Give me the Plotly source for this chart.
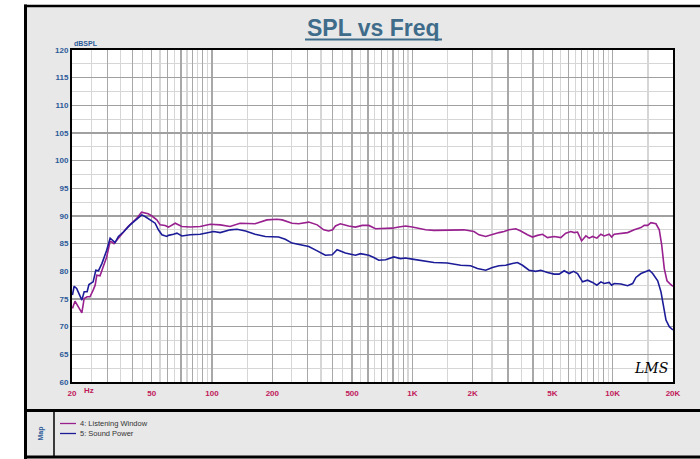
import plotly.graph_objects as go

# ---------------- data ----------------
series_names = ["4: Listening Window", "5: Sound Power"]

lw_freq = [20.1, 20.7, 22.4, 23.0, 23.8, 24.6, 25.5, 26.1, 26.6, 27.6, 28.6, 29.8, 31.0, 31.6, 32.4,
           33.5, 35.4, 38.1, 42.1, 44.5, 48.0, 50.1, 53.0, 55.1, 58.3, 60.6, 65.5, 70.7, 77.8, 87.3,
           98, 110, 123, 138, 150, 164, 188, 199, 211, 224, 251, 271, 304, 335, 361, 382, 400, 413,
           437, 481, 520, 562, 606, 655, 735, 793, 856, 925, 999, 1078, 1164, 1281, 1495, 1809,
           2030, 2151, 2323, 2510, 2708, 2868, 3038, 3282, 3476, 3754, 3977, 4212, 4462, 4727,
           5100, 5508, 5834, 6180, 6422, 6676, 6992, 7346, 7630, 7935, 8337, 8730, 9070, 9606,
           9874, 10176, 10990, 11872, 12812, 13836, 14376, 14950, 15524, 16443, 17082, 17560,
           18093, 18666, 19388, 20000]
lw_spl = [73.3, 74.6, 72.5, 75.1, 75.4, 75.4, 76.6, 77.5, 79.3, 79.2, 80.8, 82.6, 85.4, 85.3, 85.0,
          85.7, 86.7, 88.1, 89.6, 90.7, 90.4, 90.0, 89.3, 88.4, 88.3, 88.0, 88.7, 88.1, 88.0, 88.1,
          88.5, 88.4, 88.1, 88.7, 88.7, 88.6, 89.3, 89.4, 89.4, 89.3, 88.7, 88.6, 88.9, 88.4, 87.5,
          87.3, 87.5, 88.2, 88.6, 88.2, 88.0, 88.3, 88.3, 87.7, 87.7, 87.8, 88.0, 88.2, 88.0, 87.8,
          87.5, 87.4, 87.5, 87.5, 87.2, 86.6, 86.3, 86.7, 87.0, 87.2, 87.5, 87.7, 87.3, 86.6, 86.2,
          86.5, 86.7, 86.1, 86.3, 86.1, 86.9, 87.2, 87.0, 87.1, 85.5, 86.4, 86.0, 86.3, 86.0, 86.7,
          86.4, 86.7, 86.2, 86.7, 86.9, 87.0, 87.5, 87.9, 88.3, 88.3, 88.8, 88.6, 87.5, 84.8, 80.5,
          78.3, 77.7, 77.3]

sp_freq = [20.1, 20.5, 21.1, 22.4, 23.0, 23.8, 24.3, 25.5, 26.3, 27.1, 28.2, 29.8, 31.0, 32.0, 32.8,
           34.1, 36.1, 39.0, 42.1, 44.6, 46.3, 49.1, 52.0, 54.0, 56.2, 59.5, 60.6, 64.2, 66.8, 70.7,
           77.8, 87.3, 94.3, 101.8, 109.9, 123.3, 133.3, 147, 164, 184.5, 215, 232, 251, 282, 304,
           335, 368, 398, 421, 463, 520, 551, 606, 642, 680, 735, 808, 873, 925, 999, 1078, 1164,
           1281, 1495, 1742, 1954, 2112, 2323, 2510, 2708, 2924, 3159, 3346, 3545, 3824, 4130,
           4375, 4727, 5100, 5402, 5724, 6061, 6376, 6676, 7071, 7492, 7935, 8337, 8730, 9070,
           9606, 9874, 10176, 10990, 11872, 12577, 13062, 13836, 14655, 15224, 15832, 16775,
           17419, 17968, 18452, 19166, 20000]
sp_spl = [75.7, 77.3, 76.9, 74.8, 76.3, 76.3, 77.6, 78.1, 80.2, 80.1, 81.4, 83.8, 86.0, 85.5, 85.2,
          86.3, 87.1, 88.4, 89.4, 90.2, 89.9, 89.3, 88.7, 87.5, 86.6, 86.3, 86.5, 86.7, 86.9, 86.4,
          86.6, 86.7, 87.0, 87.2, 87.0, 87.5, 87.6, 87.3, 86.7, 86.3, 86.2, 85.8, 85.1, 84.8, 84.5,
          83.7, 82.9, 83.0, 83.9, 83.3, 82.9, 83.2, 82.9, 82.5, 82.0, 82.1, 82.6, 82.3, 82.4, 82.2,
          82.0, 81.8, 81.6, 81.5, 81.1, 81.0, 80.5, 80.2, 80.7, 81.0, 81.1, 81.4, 81.6, 81.1, 80.2,
          80.0, 80.2, 79.8, 79.5, 79.5, 80.1, 79.6, 80.0, 79.6, 78.1, 78.4, 78.0, 77.5, 78.1, 77.8,
          78.0, 77.5, 77.8, 77.7, 77.4, 77.8, 78.9, 79.6, 80.0, 80.2, 79.6, 78.3, 76.3, 73.3, 71.2,
          70.0, 69.4]

x_major_vals = [20, 30, 40, 50, 60, 70, 80, 90, 100, 200, 300, 400, 500, 600, 700, 800, 900,
                1000, 2000, 3000, 4000, 5000, 6000, 7000, 8000, 9000, 10000, 20000]
x_major_text = ["20", "", "", "50", "", "", "", "", "100", "200", "", "", "500", "", "", "", "",
                "1K", "2K", "", "", "5K", "", "", "", "", "10K", "20K"]
x_minor_vals = [25, 35, 45, 55, 65, 75, 85, 95, 150, 250, 350, 450, 550, 650, 750, 850, 950,
                1500, 2500, 3500, 4500, 5500, 6500, 7500, 8500, 9500, 15000]
y_tick_vals = [60, 65, 70, 75, 80, 85, 90, 95, 100, 105, 110, 115, 120]

title_text = "SPL vs Freq"
y_unit = "dBSPL"
x_unit = "Hz"

# ---------------- style ----------------
LW_COLOR = "#98208f"
SP_COLOR = "#1c1c98"
TITLE_COLOR = "#3e6c8a"
YLAB_COLOR = "#2c5a98"
XLAB_COLOR = "#c0185a"
FRAME_GRAY = "#e8e8e8"

W, H = 700, 459
PL, PR, PT, PB = 72, 673, 50, 382  # plot area in pixels


def xp(px):
    return (px - PL) / (PR - PL)


def yp(py):
    return (PB - py) / (PB - PT)


fig = go.Figure()
fig.add_trace(go.Scatter(x=lw_freq, y=lw_spl, mode="lines", name=series_names[0],
                         line=dict(color=LW_COLOR, width=1.6), showlegend=False))
fig.add_trace(go.Scatter(x=sp_freq, y=sp_spl, mode="lines", name=series_names[1],
                         line=dict(color=SP_COLOR, width=1.6), showlegend=False))

shapes = []
# white page outside the gray frame (left strip and top strip)
shapes.append(dict(type="rect", xref="paper", yref="paper", x0=xp(-10), x1=xp(25), y0=yp(470), y1=yp(-10),
                   fillcolor="white", line=dict(width=0), layer="below"))
shapes.append(dict(type="rect", xref="paper", yref="paper", x0=xp(-10), x1=xp(710), y0=yp(6), y1=yp(-10),
                   fillcolor="white", line=dict(width=0), layer="below"))


def hline(py, x0, x1, w, color="black"):
    return dict(type="line", xref="paper", yref="paper", x0=xp(x0), x1=xp(x1), y0=yp(py), y1=yp(py),
                line=dict(color=color, width=w), layer="above")


def vline(px, y0, y1, w, color="black"):
    return dict(type="line", xref="paper", yref="paper", x0=xp(px), x1=xp(px), y0=yp(y0), y1=yp(y1),
                line=dict(color=color, width=w), layer="above")


shapes.append(vline(25.5, 4.5, 470, 3))
shapes.append(hline(6, 24, 710, 2.5))
shapes.append(hline(410.5, 24, 710, 3))
shapes.append(hline(457, 24, 710, 3))
shapes.append(vline(54, 411, 456, 1.5))
# title underline
shapes.append(hline(39.5, 305, 442, 2, TITLE_COLOR))
# legend samples
shapes.append(hline(423.5, 60, 76, 1.3, LW_COLOR))
shapes.append(hline(433.5, 60, 76, 1.3, SP_COLOR))

annotations = [
    dict(text="<b>" + title_text + "</b>", x=xp(373.5), y=yp(28), xref="paper", yref="paper",
         showarrow=False, xanchor="center", yanchor="middle",
         font=dict(family="Liberation Sans, Arial", size=23, color=TITLE_COLOR)),
    dict(text="<b>" + y_unit + "</b>", x=xp(72), y=yp(43.5), xref="paper", yref="paper",
         showarrow=False, xanchor="left", yanchor="middle",
         font=dict(family="Liberation Sans, Arial", size=7, color=YLAB_COLOR)),
    dict(text="<b>" + x_unit + "</b>", x=xp(82), y=yp(390), xref="paper", yref="paper",
         showarrow=False, xanchor="left", yanchor="middle",
         font=dict(family="Liberation Sans, Arial", size=8, color=XLAB_COLOR)),
    dict(text="<i>LMS</i>", x=xp(651), y=yp(368), xref="paper", yref="paper",
         showarrow=False, xanchor="center", yanchor="middle",
         font=dict(family="DejaVu Serif", size=14, color="black")),
    dict(text="<b>Map</b>", x=xp(40), y=yp(433.5), xref="paper", yref="paper", textangle=-90,
         showarrow=False, xanchor="center", yanchor="middle",
         font=dict(family="Liberation Sans, Arial", size=7, color=YLAB_COLOR)),
    dict(text=series_names[0], x=xp(78), y=yp(423.5), xref="paper", yref="paper",
         showarrow=False, xanchor="left", yanchor="middle",
         font=dict(family="Liberation Sans, Arial", size=7.5, color="#333333")),
    dict(text=series_names[1], x=xp(78), y=yp(433.5), xref="paper", yref="paper",
         showarrow=False, xanchor="left", yanchor="middle",
         font=dict(family="Liberation Sans, Arial", size=7.5, color="#333333")),
]

fig.update_layout(
    width=W, height=H,
    margin=dict(l=PL, r=W - PR, t=PT, b=H - PB, pad=0),
    paper_bgcolor=FRAME_GRAY, plot_bgcolor="white",
    shapes=shapes, annotations=annotations,
    showlegend=False,
    xaxis=dict(type="log", range=[1.30103, 4.30103],
               tickmode="array", tickvals=x_major_vals, ticktext=x_major_text,
               tickfont=dict(family="Liberation Sans, Arial", size=8, color=XLAB_COLOR, weight="bold"),
               ticks="", showgrid=True, gridcolor="#a8a8a8", gridwidth=1.2,
               minor=dict(tickmode="array", tickvals=x_minor_vals, showgrid=True,
                          gridcolor="#d6d6d6", gridwidth=1.2),
               showline=True, mirror=True, linecolor="black", linewidth=2,
               zeroline=False, ticklabelstandoff=2),
    yaxis=dict(range=[60, 120], tickmode="array", tickvals=y_tick_vals,
               tickfont=dict(family="Liberation Sans, Arial", size=8, color=YLAB_COLOR, weight="bold"),
               ticks="", showgrid=True, gridcolor="#a0a0a0", gridwidth=1.2,
               minor=dict(dtick=2.5, showgrid=True, gridcolor="#d6d6d6", gridwidth=1.2),
               showline=True, mirror=True, linecolor="black", linewidth=2,
               zeroline=False, ticklabelstandoff=0),
)

fig.write_html("out.html", config={"displayModeBar": False, "staticPlot": True},
               post_script="document.body.style.margin='0';document.body.style.padding='0';"
                           "document.body.style.overflow='hidden';")
